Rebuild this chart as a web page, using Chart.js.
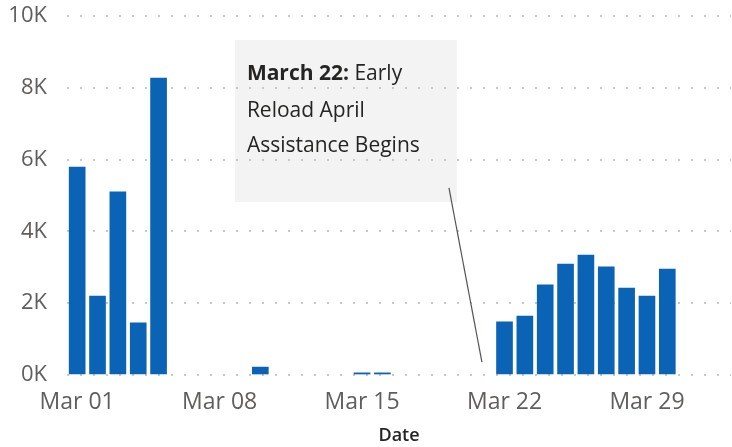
<!DOCTYPE html>
<html>
<head>
<meta charset="utf-8">
<script src="https://cdn.jsdelivr.net/npm/chart.js@4/dist/chart.umd.min.js"></script>
<style>
  body { margin: 0; background: #fff; }
  #wrap { width: 732px; height: 447px; position: relative; }
</style>
</head>
<body>
<div id="wrap"><canvas id="chart"></canvas></div>
<script>
// day of month (March) and daily counts
const days = [1, 2, 3, 4, 5, 10, 15, 16, 22, 23, 24, 25, 26, 27, 28, 29, 30]
const counts = [5790, 2200, 5100, 1450, 8270, 220, 60, 60, 1480, 1640, 2510, 3090, 3340, 3010, 2420, 2200, 2950]

const tickDays = [1, 8, 15, 22, 29]
const tickLabels = ['Mar 01', 'Mar 08', 'Mar 15', 'Mar 22', 'Mar 29']

const noteBold = 'March 22:'
const noteLines = [' Early', 'Reload April', 'Assistance Begins']

const FONT = "'Open Sans', 'Noto Sans', sans-serif"

const points = days.map((d, i) => ({ x: d, y: counts[i] }))

// annotation box + pointer line, placed in data units
const note = {
  box: { x1: 8.75, x2: 19.66, y1: 9330, y2: 4820 },
  line: { x1: 19.27, y1: 5210, x2: 20.89, y2: 360 }
}

const notePlugin = {
  id: 'note',
  beforeDraw(chart) {
    const { ctx, scales } = chart
    const x = scales.x, y = scales.y
    const l = x.getPixelForValue(note.box.x1)
    const r = x.getPixelForValue(note.box.x2)
    const t = y.getPixelForValue(note.box.y1)
    const b = y.getPixelForValue(note.box.y2)
    ctx.save()
    ctx.fillStyle = '#f3f3f3'
    ctx.fillRect(l, t, r - l, b - t)
    ctx.restore()
  },
  afterDraw(chart) {
    const { ctx, scales } = chart
    const x = scales.x, y = scales.y
    const l = x.getPixelForValue(note.box.x1)
    const t = y.getPixelForValue(note.box.y1)
    ctx.save()
    // pointer line
    ctx.strokeStyle = '#555'
    ctx.lineWidth = 1.2
    ctx.beginPath()
    ctx.moveTo(x.getPixelForValue(note.line.x1), y.getPixelForValue(note.line.y1))
    ctx.lineTo(x.getPixelForValue(note.line.x2), y.getPixelForValue(note.line.y2))
    ctx.stroke()
    // text
    ctx.fillStyle = '#252423'
    ctx.textBaseline = 'alphabetic'
    ctx.font = `bold 21px ${FONT}`
    ctx.fillText(noteBold, l + 12, t + 40)
    const w = ctx.measureText(noteBold).width
    ctx.font = `21px ${FONT}`
    ctx.fillText(noteLines[0], l + 12 + w, t + 40)
    ctx.fillText(noteLines[1], l + 12, t + 77)
    ctx.fillText(noteLines[2], l + 12, t + 112)
    ctx.restore()
  }
}

new Chart(document.getElementById('chart'), {
  type: 'bar',
  data: {
    datasets: [{
      data: points,
      backgroundColor: '#0B63B5',
      barThickness: 16
    }]
  },
  options: {
    responsive: true,
    maintainAspectRatio: false,
    animation: false,
    layout: { padding: { top: 16, right: 1, left: 0, bottom: 0 } },
    plugins: { legend: { display: false }, tooltip: { enabled: false } },
    scales: {
      x: {
        type: 'linear',
        min: 0.5,
        max: 33.13,
        offset: false,
        grid: { display: false, offset: false },
        border: { display: false },
        afterBuildTicks: (s) => { s.ticks = tickDays.map((v) => ({ value: v })) },
        afterFit: (s) => { s.height = 72; s.paddingLeft = 0; s.paddingRight = 0 },
        ticks: {
          autoSkip: false,
          maxRotation: 0,
          padding: 6,
          color: '#605E5C',
          font: { family: FONT, size: 23 },
          callback: (v) => tickLabels[tickDays.indexOf(v)]
        },
        title: {
          display: true,
          text: 'Date',
          color: '#252423',
          padding: 0,
          font: { family: FONT, size: 18, weight: '600' }
        }
      },
      y: {
        min: 0,
        max: 10000,
        afterFit: (s) => { s.width = 67; s.paddingTop = 0; s.paddingBottom = 0 },
        border: { display: false, dash: [2, 11] },
        grid: {
          color: '#c8c8c8',
          lineWidth: 2,
          drawTicks: false
        },
        ticks: {
          stepSize: 2000,
          padding: 20,
          color: '#605E5C',
          font: { family: FONT, size: 22 },
          callback: (v) => v / 1000 + 'K'
        }
      }
    }
  },
  plugins: [notePlugin]
})
</script>
</body>
</html>
